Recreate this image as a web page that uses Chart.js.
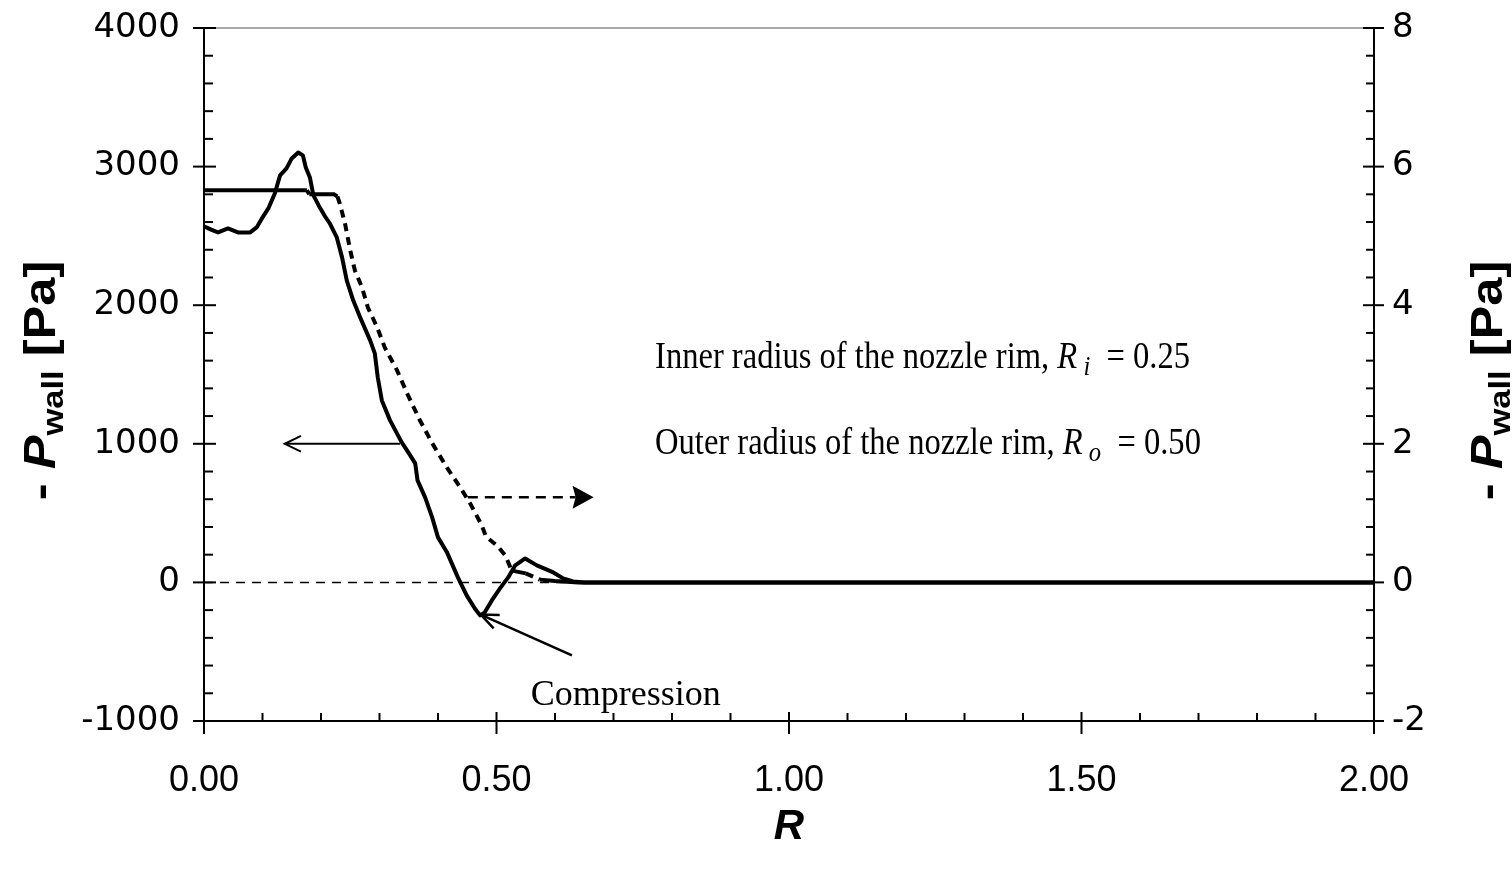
<!DOCTYPE html>
<html>
<head>
<meta charset="utf-8">
<script src="https://cdn.jsdelivr.net/npm/chart.js@4.4.1/dist/chart.umd.min.js"></script>
<style>
  html, body { margin: 0; padding: 0; background: #fff; }
  #wrap { width: 1512px; height: 871px; }
</style>
</head>
<body>
<div id="wrap"><canvas id="pwallChart" width="1512" height="871"></canvas></div>
<script>
// -P_wall along the plate, left axis [Pa]
const pressureR = [0.000, 0.012, 0.024, 0.041, 0.058, 0.079, 0.090, 0.099, 0.110, 0.121, 0.130, 0.141, 0.150, 0.161, 0.169, 0.174, 0.181, 0.187, 0.196, 0.207, 0.215, 0.227, 0.236, 0.244, 0.255, 0.267, 0.284, 0.292, 0.297, 0.304, 0.318, 0.338, 0.352, 0.361, 0.365, 0.378, 0.390, 0.400, 0.415, 0.434, 0.449, 0.463, 0.472, 0.480, 0.492, 0.506, 0.520, 0.532, 0.549, 0.569, 0.597, 0.614, 0.631, 0.650, 2.000];
const pressurePa = [2570, 2545, 2525, 2554, 2525, 2525, 2561, 2626, 2698, 2806, 2937, 2987, 3059, 3102, 3081, 2994, 2922, 2792, 2720, 2640, 2590, 2489, 2345, 2179, 2035, 1912, 1746, 1652, 1480, 1313, 1169, 1010, 920, 859, 736, 613, 469, 325, 220, 36, -94, -188, -238, -216, -130, -43, 36, 123, 173, 123, 72, 29, 7, 0, 0];

// -P_wall of the second case, right axis [Pa]
const fineR = [0.000, 0.176, 0.180, 0.222, 0.228, 0.232, 0.241, 0.250, 0.258, 0.270, 0.280, 0.296, 0.309, 0.330, 0.347, 0.369, 0.390, 0.415, 0.438, 0.455, 0.475, 0.482, 0.501, 0.515, 0.526, 0.550, 0.574, 0.600, 0.640, 2.000];
const finePa = [5.66, 5.66, 5.60, 5.60, 5.57, 5.47, 5.18, 4.79, 4.50, 4.26, 3.97, 3.68, 3.39, 3.06, 2.73, 2.34, 2.01, 1.66, 1.37, 1.14, 0.82, 0.66, 0.53, 0.39, 0.17, 0.13, 0.04, 0.02, 0.00, 0.00];

const xRange = [0, 2];
const leftRange = [-1000, 4000];
const rightRange = [-2, 8];

const toPoints = (xs, ys) => xs.map((r, i) => ({ x: r, y: ys[i] }));

const serif = '"Liberation Serif", "Times New Roman", serif';
const sans = '"Liberation Sans", Arial, sans-serif';
const wide = '"DejaVu Sans", sans-serif';

// draw a sequence of differently styled text pieces on one line,
// optionally squeezed or stretched along the line
function drawRuns(ctx, x, y, parts, align, sx) {
    sx = sx || 1;
    let w = 0;
    parts.forEach(p => { ctx.font = p.font; w += ctx.measureText(p.text).width; });
    ctx.save();
    ctx.translate(x, y);
    ctx.scale(sx, 1);
    let cx = align === 'center' ? -w / 2 : 0;
    parts.forEach(p => {
        ctx.font = p.font;
        ctx.fillText(p.text, cx, p.dy || 0);
        cx += ctx.measureText(p.text).width;
    });
    ctx.restore();
}

function drawArrow(ctx, x0, y0, x1, y1, s) {
    const ang = Math.atan2(y1 - y0, x1 - x0);
    const back = s.filled ? s.len * 0.75 : 0;
    ctx.save();
    ctx.lineWidth = s.width;
    ctx.setLineDash(s.dash || []);
    ctx.beginPath();
    ctx.moveTo(x0, y0);
    ctx.lineTo(x1 - back * Math.cos(ang), y1 - back * Math.sin(ang));
    ctx.stroke();
    ctx.setLineDash([]);
    const a1 = ang + Math.PI - s.spread, a2 = ang + Math.PI + s.spread;
    ctx.beginPath();
    ctx.moveTo(x1 + s.len * Math.cos(a1), y1 + s.len * Math.sin(a1));
    ctx.lineTo(x1, y1);
    ctx.lineTo(x1 + s.len * Math.cos(a2), y1 + s.len * Math.sin(a2));
    if (s.filled) {
        ctx.lineTo(x1 - back * Math.cos(ang), y1 - back * Math.sin(ang));
        ctx.closePath();
        ctx.fill();
    } else {
        ctx.stroke();
    }
    ctx.restore();
}

function seg(ctx, x0, y0, x1, y1) {
    ctx.beginPath();
    ctx.moveTo(x0, y0);
    ctx.lineTo(x1, y1);
    ctx.stroke();
}

// tick marks, frame line, axis titles, notes and arrows
const decorPlugin = {
    id: 'decor',
    afterDraw(chart) {
        const { ctx, chartArea: a, scales: { x, y, y2 } } = chart;
        ctx.save();
        ctx.strokeStyle = '#888';
        ctx.lineWidth = 1.5;
        seg(ctx, a.left, a.top, a.right, a.top);

        ctx.strokeStyle = '#000';
        ctx.fillStyle = '#000';
        ctx.lineWidth = 2;
        for (let i = 0; i <= 20; i++) {
            const px = x.getPixelForValue(i / 10);
            if (i % 5 === 0) seg(ctx, px, a.bottom - 9, px, a.bottom + 13);
            else seg(ctx, px, a.bottom - 8, px, a.bottom);
        }
        for (let i = -5; i <= 20; i++) {
            const py = y.getPixelForValue(i * 200);
            if (i % 5 === 0) seg(ctx, a.left - 11, py, a.left + 12, py);
            else seg(ctx, a.left, py, a.left + 9, py);
            const py2 = y2.getPixelForValue(i * 0.4);
            if (i % 5 === 0) seg(ctx, a.right - 11, py2, a.right + 10, py2);
            else seg(ctx, a.right - 8, py2, a.right, py2);
        }

        // axis titles
        const midY = (a.top + a.bottom) / 2 + 6;
        const yTitle = [
            { text: '- ', font: 'bold 44px ' + sans },
            { text: 'P', font: 'italic bold 44px ' + sans },
            { text: 'wall', font: 'bold 30px ' + sans, dy: 8 },
            { text: ' [Pa]', font: 'bold 44px ' + sans }
        ];
        ctx.textBaseline = 'alphabetic';
        [55, 1502].forEach(tx => {
            ctx.save();
            ctx.translate(tx, midY);
            ctx.rotate(-Math.PI / 2);
            drawRuns(ctx, 0, 0, yTitle, 'center', 1.15);
            ctx.restore();
        });
        drawRuns(ctx, (a.left + a.right) / 2, 839, [{ text: 'R', font: 'italic bold 42px ' + sans }], 'center');

        // nozzle rim notes
        const noteX = x.getPixelForValue(0.771);
        drawRuns(ctx, noteX, y.getPixelForValue(1550), [
            { text: 'Inner radius of the nozzle rim, ', font: '37px ' + serif },
            { text: 'R', font: 'italic 37px ' + serif },
            { text: ' i', font: 'italic 28px ' + serif, dy: 7 },
            { text: '  = 0.25', font: '37px ' + serif }
        ], 'left', 0.88);
        drawRuns(ctx, noteX, y.getPixelForValue(923), [
            { text: 'Outer radius of the nozzle rim, ', font: '37px ' + serif },
            { text: 'R', font: 'italic 37px ' + serif },
            { text: ' o', font: 'italic 28px ' + serif, dy: 7 },
            { text: '  = 0.50', font: '37px ' + serif }
        ], 'left', 0.88);
        drawRuns(ctx, x.getPixelForValue(0.721), y.getPixelForValue(-888),
            [{ text: 'Compression', font: '36px ' + serif }], 'center');

        // arrows pointing to the axis each curve belongs to
        drawArrow(ctx, x.getPixelForValue(0.335), y.getPixelForValue(1000),
            x.getPixelForValue(0.138), y.getPixelForValue(1000),
            { width: 2, len: 18, spread: 0.45 });
        drawArrow(ctx, x.getPixelForValue(0.451), y2.getPixelForValue(1.23),
            x.getPixelForValue(0.666), y2.getPixelForValue(1.23),
            { width: 2.5, len: 24, spread: 0.5, filled: true, dash: [10, 7] });
        drawArrow(ctx, x.getPixelForValue(0.629), y.getPixelForValue(-527),
            x.getPixelForValue(0.473), y.getPixelForValue(-232),
            { width: 2.5, len: 19, spread: 0.4 });
        ctx.restore();
    }
};

const flatDash = c => Math.abs(c.p1.parsed.y - c.p0.parsed.y) <= 0.06 ? [] : [8, 6];

// keep the axes where they sit; tick labels may hang outside the plot box
const clearPad = s => { s.paddingTop = 0; s.paddingBottom = 0; };

new Chart(document.getElementById('pwallChart'), {
    type: 'line',
    data: {
        datasets: [
            {
                data: toPoints(pressureR, pressurePa),
                yAxisID: 'y',
                borderColor: '#000',
                borderWidth: 4,
                borderJoinStyle: 'round',
                borderCapStyle: 'round',
                order: 1
            },
            {
                data: toPoints(fineR, finePa),
                yAxisID: 'y2',
                borderColor: '#000',
                borderWidth: 4,
                segment: { borderDash: flatDash },
                order: 2
            },
            {
                data: [{ x: xRange[0], y: 0 }, { x: xRange[1], y: 0 }],
                yAxisID: 'y',
                borderColor: '#000',
                borderWidth: 1.5,
                borderDash: [9, 7],
                order: 3
            }
        ]
    },
    options: {
        responsive: false,
        animation: false,
        elements: { point: { radius: 0 }, line: { tension: 0 } },
        layout: { padding: { top: 28, left: 0, right: 0, bottom: 0 } },
        plugins: { legend: { display: false }, tooltip: { enabled: false } },
        scales: {
            x: {
                type: 'linear',
                min: xRange[0],
                max: xRange[1],
                afterFit: s => { s.height = 150; s.paddingLeft = 0; s.paddingRight = 0; },
                grid: { drawOnChartArea: false, drawTicks: false },
                border: { color: '#000', width: 2 },
                ticks: {
                    stepSize: 0.5,
                    padding: 38,
                    color: '#000',
                    font: { family: sans, size: 36 },
                    callback: v => v.toFixed(2)
                }
            },
            y: {
                position: 'left',
                min: leftRange[0],
                max: leftRange[1],
                afterFit: s => { s.width = 204; clearPad(s); },
                grid: { drawOnChartArea: false, drawTicks: false },
                border: { color: '#000', width: 2 },
                ticks: {
                    stepSize: 1000,
                    padding: 24,
                    color: '#000',
                    font: { family: wide, size: 34 },
                    callback: v => String(v)
                }
            },
            y2: {
                position: 'right',
                min: rightRange[0],
                max: rightRange[1],
                afterFit: s => { s.width = 138; clearPad(s); },
                grid: { drawOnChartArea: false, drawTicks: false },
                border: { color: '#000', width: 2 },
                ticks: {
                    stepSize: 2,
                    padding: 18,
                    color: '#000',
                    font: { family: wide, size: 34 },
                    callback: v => String(v)
                }
            }
        }
    },
    plugins: [decorPlugin]
});
</script>
</body>
</html>
